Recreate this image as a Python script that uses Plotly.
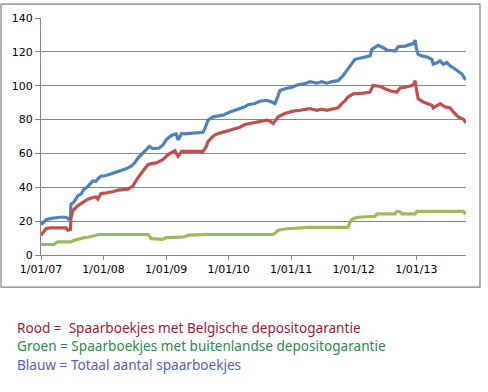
import plotly.graph_objects as go
import pandas as pd

# ---- data (decimal year, value) ----
blue_t = [2007.00, 2007.04, 2007.09, 2007.14, 2007.22, 2007.30, 2007.40, 2007.44, 2007.47, 2007.48,
          2007.52, 2007.59, 2007.64, 2007.69, 2007.75, 2007.80, 2007.83, 2007.88, 2007.91, 2007.96,
          2008.02, 2008.09, 2008.16, 2008.23, 2008.29, 2008.36, 2008.44, 2008.50, 2008.55, 2008.60,
          2008.65, 2008.69, 2008.73, 2008.79, 2008.89, 2008.95, 2009.00, 2009.06, 2009.11, 2009.16,
          2009.19, 2009.25, 2009.30, 2009.46, 2009.59, 2009.62, 2009.67, 2009.75, 2009.83, 2009.91,
          2010.02, 2010.10, 2010.18, 2010.26, 2010.31, 2010.42, 2010.50, 2010.61, 2010.69, 2010.74,
          2010.79, 2010.82, 2010.90, 2011.01, 2011.11, 2011.22, 2011.30, 2011.41, 2011.49, 2011.57,
          2011.65, 2011.75, 2011.83, 2011.89, 2011.94, 2012.02, 2012.13, 2012.26, 2012.29, 2012.34,
          2012.39, 2012.47, 2012.53, 2012.66, 2012.71, 2012.82, 2012.93, 2012.96, 2012.98, 2013.00,
          2013.03, 2013.09, 2013.17, 2013.25, 2013.27, 2013.33, 2013.38, 2013.43, 2013.49, 2013.54,
          2013.62, 2013.67, 2013.73, 2013.76, 2013.79]
blue_v = [18, 19.5, 21, 21.5, 22, 22.3, 22.3, 21.2, 21.5, 30,
          31, 35, 36, 38.9, 40.5, 43, 43.7, 43.5, 45, 46.6,
          46.8, 47.6, 48.5, 49.6, 50, 50.9, 52.5, 54.5, 57.3, 59,
          61.2, 62.5, 64.1, 62.8, 63.2, 65, 68, 70, 71, 71.5,
          68, 71.9, 71.5, 72, 72.5, 74.8, 79.7, 81.6, 82, 82.6,
          84.5, 85.5, 86.5, 87.5, 88.8, 89.5, 90.8, 91.4, 90.4, 89.4,
          94, 97.2, 98.2, 99.1, 100.5, 101.2, 102.4, 101.5, 102.4, 101.5,
          102.4, 103, 105.9, 109, 111.8, 115.6, 116.5, 117.6, 121.5, 122.5,
          123.8, 122.4, 121.1, 120.5, 123, 123.4, 124.4, 125, 127, 122,
          118.5, 117.6, 117, 115.6, 112.7, 113.5, 114.7, 112.7, 113.7, 111.8,
          109.9, 108.3, 106.9, 105, 103.5]

red_t = [2007.00, 2007.04, 2007.08, 2007.14, 2007.30, 2007.40, 2007.43, 2007.47, 2007.48, 2007.51,
         2007.59, 2007.64, 2007.69, 2007.75, 2007.83, 2007.88, 2007.91, 2007.96, 2008.02, 2008.09,
         2008.16, 2008.23, 2008.31, 2008.39, 2008.47, 2008.55, 2008.63, 2008.71, 2008.77, 2008.84,
         2008.90, 2008.95, 2009.03, 2009.09, 2009.14, 2009.19, 2009.25, 2009.38, 2009.59, 2009.64,
         2009.67, 2009.73, 2009.78, 2009.86, 2009.94, 2010.02, 2010.10, 2010.18, 2010.26, 2010.34,
         2010.45, 2010.53, 2010.61, 2010.66, 2010.71, 2010.76, 2010.79, 2010.90, 2010.98, 2011.03,
         2011.14, 2011.22, 2011.30, 2011.41, 2011.49, 2011.57, 2011.65, 2011.75, 2011.81, 2011.86,
         2011.91, 2011.99, 2012.13, 2012.26, 2012.31, 2012.37, 2012.42, 2012.50, 2012.58, 2012.69,
         2012.74, 2012.82, 2012.93, 2012.96, 2012.98, 2013.00, 2013.03, 2013.11, 2013.19, 2013.25,
         2013.27, 2013.33, 2013.38, 2013.46, 2013.54, 2013.59, 2013.67, 2013.73, 2013.76, 2013.79]
red_v = [11.7, 13.5, 15.5, 16, 16, 16, 14.6, 15, 22, 26.2,
         29.2, 30.5, 32, 33, 34, 34.3, 33, 36.3, 36.5, 36.9,
         37.5, 38.3, 38.5, 38.9, 40.8, 45.7, 49.6, 53.5, 54, 54.4,
         55.4, 56.4, 59.3, 60.5, 61.6, 58.3, 61.2, 61.2, 61.2, 64,
         67, 69.5, 71, 72, 72.9, 73.5, 74.5, 75.5, 77.1, 77.8,
         78.7, 79, 79.7, 79, 77.7, 80, 81.6, 83.6, 84.5, 85,
         85.5, 86.1, 86.5, 85.5, 86.1, 85.5, 86.1, 86.9, 89.4, 91,
         93.3, 95.2, 95.5, 96.2, 100.1, 100, 99.7, 98.2, 97, 96.2,
         98.7, 99.1, 100.1, 101, 103, 98, 92.3, 90.4, 89.5, 88.5,
         86.9, 88, 89.4, 87.5, 86.9, 84.5, 81.6, 80.6, 80, 78]

green_t = [2007.00, 2007.21, 2007.25, 2007.27, 2007.48, 2007.53, 2007.62, 2007.67, 2007.75, 2007.83,
           2007.93, 2008.71, 2008.74, 2008.76, 2008.95, 2009.00, 2009.29, 2009.35, 2009.67, 2010.71,
           2010.76, 2010.79, 2010.93, 2011.25, 2011.27, 2011.91, 2011.94, 2011.99, 2012.07, 2012.34,
           2012.37, 2012.66, 2012.68, 2012.71, 2012.74, 2012.77, 2012.98, 2013.01, 2013.75, 2013.79]
green_v = [6.2, 6.2, 7.5, 7.8, 7.8, 8.7, 9.5, 10.1, 10.5, 11.3,
           12.1, 12.1, 11, 9.7, 9.3, 10.3, 10.7, 11.7, 12.1, 12.1,
           13.5, 14.6, 15.5, 15.9, 16.3, 16.3, 19.4, 21.4, 22.3, 22.9,
           24.3, 24.3, 25.5, 25.8, 25.5, 24.3, 24.3, 25.8, 25.8, 24.2]

tick_dates = ["2007-01-01", "2008-01-01", "2009-01-01", "2010-01-01",
              "2011-01-01", "2012-01-01", "2013-01-01"]
tick_labels = ["1/01/07", "1/01/08", "1/01/09", "1/01/10", "1/01/11", "1/01/12", "1/01/13"]

legend_lines = ["Rood =  Spaarboekjes met Belgische depositogarantie",
                "Groen = Spaarboekjes met buitenlandse depositogarantie",
                "Blauw = Totaal aantal spaarboekjes"]


def to_dates(ts):
    out = []
    for t in ts:
        y = int(t)
        start = pd.Timestamp(year=y, month=1, day=1)
        end = pd.Timestamp(year=y + 1, month=1, day=1)
        out.append(start + (end - start) * (t - y))
    return out


fig = go.Figure()
series = [(blue_t, blue_v, "#4F81BD"), (red_t, red_v, "#C0504D"), (green_t, green_v, "#9BBB59")]
for ts, vs, col in series:
    fig.add_trace(go.Scatter(x=to_dates(ts), y=vs, mode="lines",
                             line=dict(color=col, width=3.2), showlegend=False,
                             hoverinfo="skip"))

fig.update_layout(
    width=488, height=392,
    margin=dict(l=41, r=22, t=15, b=137),
    paper_bgcolor="white", plot_bgcolor="white",
    font=dict(family="DejaVu Sans", size=11, color="black"),
)
fig.update_xaxes(
    type="date", range=["2007-01-01", "2013-10-18"],
    tickmode="array", tickvals=tick_dates, ticktext=tick_labels,
    showgrid=False, showline=True, linecolor="#868686", linewidth=1,
    ticks="outside", ticklen=4, tickcolor="#868686", zeroline=False,
)
fig.update_yaxes(
    range=[0, 140], tickmode="linear", tick0=0, dtick=20,
    showgrid=True, gridcolor="#868686", gridwidth=1,
    showline=True, linecolor="#868686", linewidth=1,
    ticks="outside", ticklen=5, tickcolor="#868686", zeroline=False,
)

# chart-area border
fig.add_shape(type="rect", xref="paper", yref="paper",
              x0=(1 - 41) / 425, x1=(480 - 41) / 425,
              y0=(255 - 287.5) / 240, y1=(255 - 1) / 240,
              line=dict(color="#7f7f7f", width=1.2), fillcolor="rgba(0,0,0,0)", layer="above")

text_cols = ["#9C1B30", "#2A8A4A", "#4F5FC8"]
text_y = [328, 347, 366]
for txt, col, yp in zip(legend_lines, text_cols, text_y):
    fig.add_annotation(text=txt, xref="paper", yref="paper",
                       x=(15 - 41) / 425, y=(255 - yp) / 240,
                       xanchor="left", yanchor="middle", showarrow=False,
                       font=dict(family="Noto Sans", size=13.6, color=col))

fig.write_html("out.html", config={"displayModeBar": False},
               post_script="document.body.style.margin='0';document.body.style.overflow='hidden';")
